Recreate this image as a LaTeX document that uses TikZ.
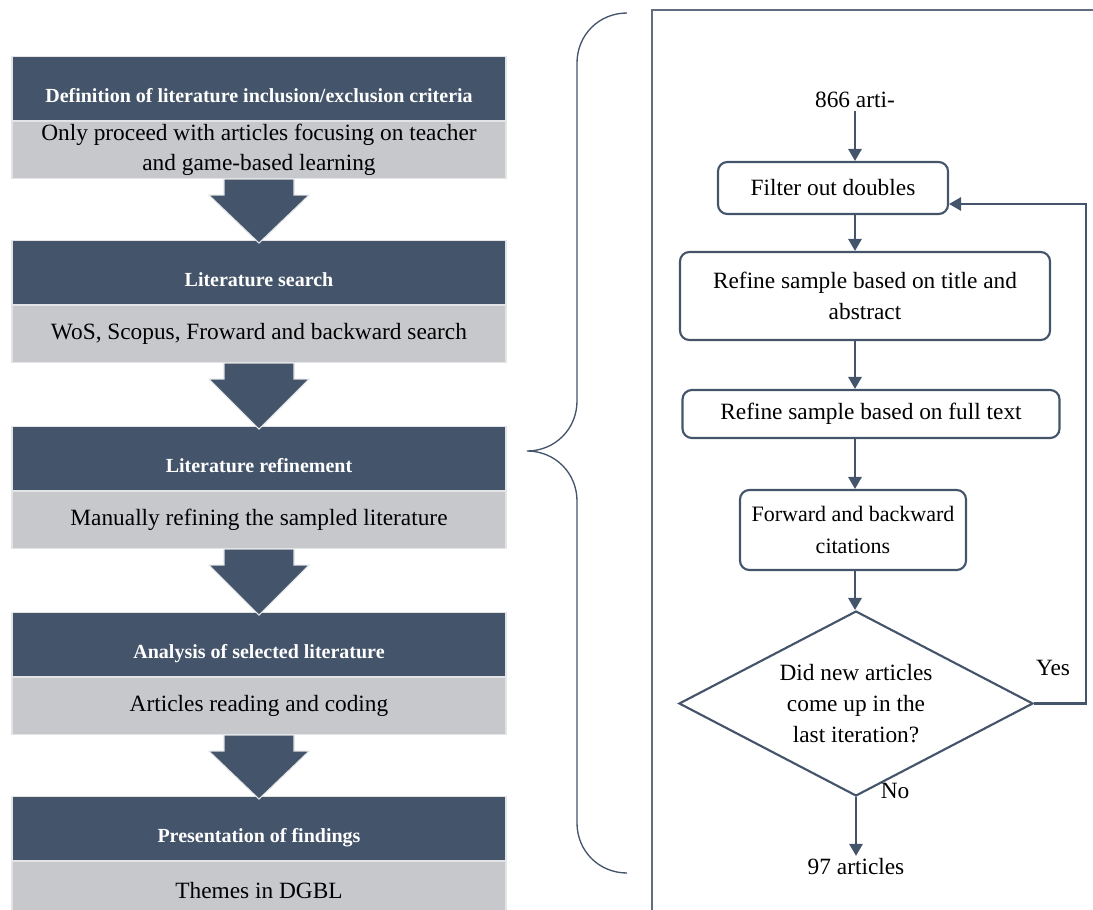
\documentclass[tikz,border=0pt]{standalone}
\usepackage{fontspec}
\setmainfont{Liberation Serif}
\usetikzlibrary{calc,positioning,shapes.geometric,arrows.meta}
\definecolor{slate}{HTML}{44546A}
\definecolor{pale}{HTML}{C6C8CC}

\begin{document}
\begin{tikzpicture}[x=0.75pt,y=-0.75pt,
    head/.style={fill=slate,draw=pale!50,line width=0.8pt,text=white,inner sep=0pt,
      minimum width=370.5pt,minimum height=48pt,text height=34.5pt,text depth=13.5pt,
      font=\fontsize{15}{18}\selectfont\bfseries},
    body/.style={fill=pale,draw=pale!50,line width=0.8pt,inner sep=0pt,align=center,
      minimum width=370.5pt,minimum height=42.75pt,font=\fontsize{17.5}{22.5}\selectfont},
    flow/.style={draw=slate,line width=1.6pt,rounded corners=7pt,inner sep=0pt,align=center,
      font=\fontsize{17.5}{23.5}\selectfont},
    txt/.style={inner sep=2pt,font=\fontsize{17.5}{23}\selectfont},
    arr/.style={draw=slate,line width=1.6pt,-{Triangle[width=10pt,length=9pt]}},
    blk/.style={fill=slate,draw=pale!50,line width=0.8pt}]
  \useasboundingbox (0,0) rectangle (1093,910);

  % left column: steps of the review
  \node[head,anchor=north] (hd1) at (259,56) {Definition of literature inclusion/exclusion criteria};
  \node[body,below=0pt of hd1] (lt1) {Only proceed with articles focusing on teacher\\and game-based learning};
  \node[head,anchor=north] (hd2) at (259,240) {Literature search};
  \node[body,below=0pt of hd2] (lt2) {WoS, Scopus, Froward and backward search};
  \node[head,anchor=north] (hd3) at (259,426) {Literature refinement};
  \node[body,below=0pt of hd3] (lt3) {Manually refining the sampled literature};
  \node[head,anchor=north] (hd4) at (259,612) {Analysis of selected literature};
  \node[body,below=0pt of hd4] (lt4) {Articles reading and coding};
  \node[head,anchor=north] (hd5) at (259,796) {Presentation of findings};
  \node[body,below=0pt of hd5] (lt5) {Themes in DGBL};

  % block arrows
  \fill[blk] ($(lt1.south)+(-35,0)$) -- ++(0,16) -- ++(-15,0) -- ($(hd2.north)+(0,3)$)
    -- ($(lt1.south)+(50,16)$) -- ++(-15,0) -- ++(0,-16) -- cycle;
  \fill[blk] ($(lt2.south)+(-35,0)$) -- ++(0,16) -- ++(-15,0) -- ($(hd3.north)+(0,3)$)
    -- ($(lt2.south)+(50,16)$) -- ++(-15,0) -- ++(0,-16) -- cycle;
  \fill[blk] ($(lt3.south)+(-35,0)$) -- ++(0,16) -- ++(-15,0) -- ($(hd4.north)+(0,3)$)
    -- ($(lt3.south)+(50,16)$) -- ++(-15,0) -- ++(0,-16) -- cycle;
  \fill[blk] ($(lt4.south)+(-35,0)$) -- ++(0,16) -- ++(-15,0) -- ($(hd5.north)+(0,3)$)
    -- ($(lt4.south)+(50,16)$) -- ++(-15,0) -- ++(0,-16) -- cycle;

  % brace and frame
  \draw[slate,line width=1pt] (627,13) .. controls (599,13) and (577,35) .. (577,63) -- (577,401)
    .. controls (577,429) and (555,451) .. (527,451) .. controls (555,451) and (577,473) .. (577,501)
    -- (577,823) .. controls (577,851) and (599,873) .. (627,873);
  \draw[slate!85,line width=0.8pt] (652,912) -- (652,10) -- (1095,10);

  % right column: search loop
  \node[txt] (src) at (855,100) {866 arti-};
  \node[flow,minimum width=172.5pt,minimum height=39pt] (f1) at (833,188) {Filter out doubles};
  \node[flow,minimum width=277.5pt,minimum height=66pt] (f2) at (865,296) {Refine sample based on title and\\abstract};
  \node[flow,minimum width=282.75pt,minimum height=36pt] (f3) at (871,414) {Refine sample based on full text};
  \node[flow,minimum width=169.5pt,minimum height=60pt,font=\fontsize{16.5}{23.5}\selectfont]
    (f4) at (853,530) {Forward and backward\\citations};
  \node[flow,shape=diamond,rounded corners=0pt,aspect=1.9,minimum width=265.5pt,minimum height=138.75pt]
    (dec) at (856,703.5) {Did new articles\\come up in the\\last iteration?};
  \node[txt] (out) at (856,867) {97 articles};
  \node[txt] (yes) at (1053,668) {Yes};
  \node[txt] (no) at (895,791) {No};
  \coordinate (back) at (1086,204);

  \draw[arr] (src.south) -- (src.south |- f1.north);
  \draw[arr] (f1.south -| src.south) -- (f2.north -| src.south);
  \draw[arr] (f2.south -| src.south) -- (f3.north -| src.south);
  \draw[arr] (f3.south -| src.south) -- (f4.north -| src.south);
  \draw[arr] (f4.south -| src.south) -- (dec.north -| src.south);
  \draw[arr] (dec.south) -- (dec.south |- out.north);
  \draw[arr] (dec.east) -| (back) -- (back -| f1.east);
\end{tikzpicture}
\end{document}
